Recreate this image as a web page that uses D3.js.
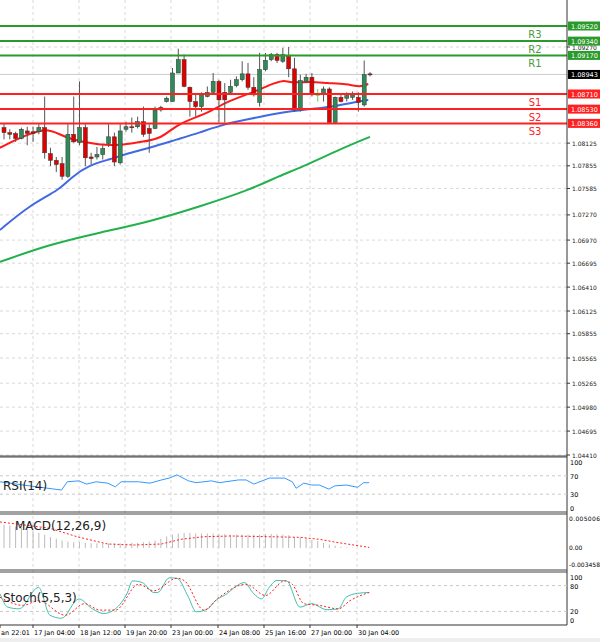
<!DOCTYPE html><html><head><meta charset="utf-8">
<script src="https://cdn.jsdelivr.net/npm/d3@7"></script>
<style>body{margin:0;background:#fff}svg{display:block;font-family:"DejaVu Sans",Arial,sans-serif}</style></head><body>
<svg id="c" width="600" height="642"></svg>
<script>
// candles: [open, high, low, close]
const candles=[[1.0831,1.0835,1.0817,1.0825],[1.0825,1.0829,1.0817,1.0823],[1.0824,1.0826,1.0814,1.0818],[1.0818,1.0831,1.0817,1.0829],
[1.0827,1.0832,1.0810,1.0824],[1.0826,1.0832,1.0814,1.0824],[1.0826,1.0835,1.0823,1.0831],[1.0831,1.0868,1.0794,1.0801],
[1.0800,1.0807,1.0785,1.0792],[1.0792,1.0796,1.0778,1.0787],[1.0788,1.0796,1.0769,1.0773],[1.0773,1.0835,1.0771,1.0823],
[1.0823,1.0868,1.0813,1.0814],[1.0813,1.0886,1.0810,1.0831],[1.0831,1.0835,1.0785,1.0795],[1.0796,1.0801,1.0787,1.0794],
[1.0796,1.0808,1.0793,1.0799],[1.0799,1.0810,1.0793,1.0806],[1.0812,1.0835,1.0808,1.0820],[1.0820,1.0825,1.0785,1.0790],
[1.0789,1.0835,1.0787,1.0827],[1.0829,1.0838,1.0826,1.0832],[1.0832,1.0843,1.0825,1.0831],[1.0832,1.0844,1.0830,1.0838],
[1.0838,1.0856,1.0820,1.0823],[1.0830,1.0835,1.0801,1.0824],[1.0830,1.0856,1.0829,1.0852],[1.0855,1.0857,1.0850,1.0852],
[1.0862,1.0868,1.0861,1.0866],[1.0862,1.0902,1.0862,1.0896],[1.0896,1.0925,1.0896,1.0912],[1.0912,1.0918,1.0879,1.0880],
[1.0879,1.0880,1.0844,1.0862],[1.0862,1.0870,1.0844,1.0856],[1.0856,1.0873,1.0850,1.0870],[1.0868,1.0880,1.0867,1.0873],
[1.0873,1.0896,1.0870,1.0886],[1.0886,1.0888,1.0837,1.0864],[1.0873,1.0884,1.0837,1.0864],[1.0873,1.0888,1.0870,1.0880],
[1.0881,1.0892,1.0879,1.0888],[1.0888,1.0910,1.0886,1.0895],[1.0895,1.0908,1.0876,1.0879],[1.0879,1.0891,1.0868,1.0870],
[1.0861,1.0920,1.0856,1.0900],[1.0900,1.0920,1.0898,1.0911],[1.0912,1.0920,1.0910,1.0918],[1.0918,1.0920,1.0908,1.0911],
[1.0910,1.0926,1.0908,1.0918],[1.0916,1.0927,1.0891,1.0901],[1.0901,1.0914,1.0850,1.0852],[1.0852,1.0894,1.0850,1.0887],
[1.0886,1.0895,1.0884,1.0891],[1.0891,1.0896,1.0868,1.0870],[1.0870,1.0877,1.0862,1.0870],[1.0871,1.0880,1.0862,1.0877],
[1.0877,1.0879,1.0837,1.0837],[1.0837,1.0868,1.0837,1.0867],[1.0867,1.0870,1.0861,1.0862],[1.0866,1.0873,1.0862,1.0869],
[1.0867,1.0874,1.0864,1.0870],[1.0867,1.0873,1.0850,1.0861],[1.0858,1.0911,1.0856,1.0894],[1.0895,1.0897,1.0892,1.0894]];
const maFastIdx=[-0.7,2.75,7.05,9.6,11.4,16.5,20,23.4,26.9,29.8,33.7,35.5,38.4,42.9,45.8,48,49.7,52.7,55.6,59,61.3,62.7];
const maFast=[1.0807,1.0819,1.0831,1.0823,1.0817,1.0810,1.0810,1.0814,1.0817,1.0835,1.0845,1.0850,1.0862,1.0873,1.0882,1.0888,1.0884,1.0886,1.0884,1.0883,1.0879,1.0883];
const maMidIdx=[-0.7,4.5,9.6,11.4,14.8,18.2,21.7,25.1,29.8,33.7,37.7,44.1,49.7,53.9,56.6,60.1,62.7];
const maMid=[1.0709,1.0739,1.0757,1.0771,1.0787,1.0793,1.0801,1.0807,1.0817,1.0825,1.0835,1.0844,1.0851,1.0854,1.0856,1.0861,1.0864];
const maSlowIdx=[-0.7,7.9,16.5,25.1,33.7,42.4,47.5,51,57.8,63];
const maSlow=[1.0671,1.0692,1.0706,1.0719,1.0737,1.0757,1.0774,1.0783,1.0805,1.0820];
const resist=[["R3",1.0952,"1.09520"],["R2",1.0934,"1.09340"],["R1",1.0917,"1.09170"]];
const support=[["S1",1.0871,"1.08710"],["S2",1.0853,"1.08530"],["S3",1.0836,"1.08360"]];
const priceTicks=["1.09270","1.08125","1.07855","1.07585","1.07270","1.06970","1.06695","1.06410","1.06125","1.05855","1.05565","1.05265","1.04980","1.04695","1.04410"];
const lastPrice=1.08943;
const rsiX=[0,60,160,175,205,225,250,280,300,315,360,390,420,440,460,490,510,550,570,620,640,660,700,740,760,770,790,810,830,855,870,900,930,945,960];
const rsi=[57,50,39,57,59,52,57,54,46,57,57,54,61,65,72,59,55,59,55,61,61,52,65,65,57,43,54,50,50,41,48,50,45,55,55];
const macdHist=[4.0,3.9,3.7,3.5,3.2,2.9,2.6,2.3,1.9,1.6,1.3,1.1,1.0,1.0,0.9,0.8,0.8,0.8,0.8,0.8,0.8,0.8,0.9,0.9,1.0,1.1,1.3,1.6,2.0,2.3,2.5,2.6,2.6,2.5,2.5,2.5,2.5,2.4,2.4,2.3,2.3,2.3,2.3,2.3,2.3,2.4,2.4,2.4,2.3,2.2,1.9,1.8,1.7,1.4,1.2,0.9,0.6,0.4,0.2,0.1,0.05,0,0,0];
const macdSigX=[0,130,200,280,350,420,470,530,600,700,780,830,880,960];
const macdSig=[4.5,3.4,1.95,0.69,0.52,0.69,1.5,1.95,2.07,1.95,1.84,1.5,0.92,0.1];
const stochKX=[0,20,50,100,130,160,205,240,270,300,330,345,370,400,410,440,460,490,510,540,560,590,610,635,660,680,700,720,745,780,810,850,880,900,930,960];
const stochK=[61,30,26,76,11,4,49,26,15,26,61,91,87,64,64,98,97,53,19,26,45,61,76,87,61,49,76,92,91,30,38,24,26,53,62,64];
const stochDX=[0,60,100,170,220,260,300,360,400,460,480,530,570,640,690,740,760,790,830,880,910,960];
const stochD=[53,34,45,11,38,23,23,83,68,97,91,23,53,83,57,91,83,38,34,26,45,64];
const timeLabels=[["an 22:01",0],["17 Jan 04:00",33],["18 Jan 12:00",79],["19 Jan 20:00",125],["23 Jan 00:00",171],["24 Jan 08:00",218],["25 Jan 16:00",264],["27 Jan 00:00",310],["30 Jan 04:00",357]];

const svg=d3.select("#c");
const AX=567;
const x=d3.scaleLinear().domain([0,63]).range([4,370]);
const zx=d3.scaleLinear().domain([0,2.6]).range([0,1]);
const y=d3.scaleLinear().domain([1.04410,1.09270]).range([455,47]);
const GRID="#c8c8c8";
timeLabels.slice(1).forEach(t=>{svg.append("line").attr("x1",t[1]).attr("x2",t[1]).attr("y1",0).attr("y2",625).attr("stroke",GRID).attr("stroke-dasharray","3,3").attr("stroke-width",0.7);});
priceTicks.forEach(t=>{svg.append("line").attr("x1",0).attr("x2",AX).attr("y1",y(+t)).attr("y2",y(+t)).attr("stroke",GRID).attr("stroke-dasharray","3,3").attr("stroke-width",0.7);});
svg.append("line").attr("x1",0).attr("x2",AX).attr("y1",y(lastPrice)).attr("y2",y(lastPrice)).attr("stroke","#ccc");
const line=d3.line().curve(d3.curveBasis).x(d=>x(d[0])).y(d=>y(d[1]));
[[maSlowIdx,maSlow,"#22b14c"],[maMidIdx,maMid,"#4169e1"],[maFastIdx,maFast,"#ff1a1a"]].forEach(([ix,v,c])=>{
 svg.append("path").attr("d",line(ix.map((d,i)=>[d,v[i]]))).attr("fill","none").attr("stroke",c).attr("stroke-width",2);});
candles.forEach((c,i)=>{const [o,h,l,cl]=c;const up=cl>o;const doji=cl===o;
 const col=doji?"#55dd55":(up?"#2e8b57":"#e00000");
 svg.append("line").attr("x1",x(i)).attr("x2",x(i)).attr("y1",y(h)).attr("y2",y(l)).attr("stroke",doji?col:"#555").attr("stroke-width",1);
 const t=y(Math.max(o,cl)),b=y(Math.min(o,cl));
 svg.append("rect").attr("x",x(i)-2).attr("y",t).attr("width",4).attr("height",Math.max(1,b-t)).attr("fill",col).attr("stroke",doji?"none":"#333").attr("stroke-width",0.5);});
function level(arr,col,tc){arr.forEach(([n,v,lab])=>{
 svg.append("line").attr("x1",0).attr("x2",AX).attr("y1",y(v)).attr("y2",y(v)).attr("stroke",col).attr("stroke-width",2);
 svg.append("text").attr("x",535).attr("y",y(v)+12).attr("font-size",10).attr("fill",tc).attr("text-anchor","middle").text(n);});}
level(resist,"#2a9a2a","#4a9a3a");level(support,"#ff2020","#ff2020");
svg.append("rect").attr("x",AX).attr("y",0).attr("width",33).attr("height",642).attr("fill","#fff");
svg.append("line").attr("x1",AX).attr("x2",AX).attr("y1",0).attr("y2",625).attr("stroke","#333");
priceTicks.forEach(t=>{svg.append("line").attr("x1",AX).attr("x2",AX+3).attr("y1",y(+t)).attr("y2",y(+t)).attr("stroke","#333");
 svg.append("text").attr("x",AX+5).attr("y",y(+t)+2.5).attr("font-size",6).attr("fill","#222").text(t);});
function box(v,lab,fill){svg.append("rect").attr("x",AX+1).attr("y",y(v)-4.5).attr("width",32).attr("height",9).attr("fill",fill);
 svg.append("text").attr("x",AX+4).attr("y",y(v)+2.5).attr("font-size",6.5).attr("fill","#fff").text(lab);}
resist.forEach(r=>box(r[1],r[2],"#2a9a2a"));support.forEach(r=>box(r[1],r[2],"#ff2020"));box(lastPrice,"1.08943","#000");
[456,457,512,514,570,572].forEach(p=>svg.append("line").attr("x1",0).attr("x2",AX).attr("y1",p).attr("y2",p).attr("stroke","#444").attr("stroke-width",1));
// RSI
const yr=d3.scaleLinear().domain([0,100]).range([508,462]);
[70,30].forEach(v=>svg.append("line").attr("x1",0).attr("x2",AX).attr("y1",yr(v)).attr("y2",yr(v)).attr("stroke",GRID).attr("stroke-dasharray","3,3"));
svg.append("path").attr("d",d3.line().x((d,i)=>zx(rsiX[i])).y(d=>yr(d))(rsi)).attr("fill","none").attr("stroke","#3399ff").attr("stroke-width",1);
[[100,"100"],[70,"70"],[30,"30"],[0,"0"]].forEach(([v,t])=>svg.append("text").attr("x",AX+3).attr("y",yr(v)+3).attr("font-size",6.5).text(t));
svg.append("text").attr("x",3).attr("y",490).attr("font-size",12).attr("fill","#222").text("RSI(14)");
// MACD
const ym=d3.scaleLinear().domain([0,5.006]).range([548,519]);
macdHist.forEach((v,i)=>svg.append("line").attr("x1",x(i)).attr("x2",x(i)).attr("y1",ym(0)).attr("y2",ym(v)).attr("stroke","#bbb").attr("stroke-width",1));
svg.append("path").attr("d",d3.line().x((d,i)=>zx(macdSigX[i])).y(d=>ym(d))(macdSig)).attr("fill","none").attr("stroke","#ff2020").attr("stroke-dasharray","2,2").attr("stroke-width",1);
[[5.006,"0.005006",521],[0,"0.00",550],[-3.458,"-0.003458",567]].forEach(([v,t,py])=>svg.append("text").attr("x",AX+2).attr("y",py).attr("font-size",6).attr("textLength",t.length>5?31:null).text(t));
svg.append("text").attr("x",15).attr("y",530).attr("font-size",12).attr("fill","#222").text("MACD(12,26,9)");
// Stoch
const ys=d3.scaleLinear().domain([0,100]).range([620,577]);
[80,20].forEach(v=>svg.append("line").attr("x1",0).attr("x2",AX).attr("y1",ys(v)).attr("y2",ys(v)).attr("stroke",GRID).attr("stroke-dasharray","3,3"));
svg.append("path").attr("d",d3.line().curve(d3.curveMonotoneX).x((d,i)=>zx(stochKX[i])).y(d=>ys(d))(stochK)).attr("fill","none").attr("stroke","#40c0b0").attr("stroke-width",1);
svg.append("path").attr("d",d3.line().curve(d3.curveMonotoneX).x((d,i)=>zx(stochDX[i])).y(d=>ys(d))(stochD)).attr("fill","none").attr("stroke","#ff2020").attr("stroke-dasharray","2,2").attr("stroke-width",1);
[[100,"100"],[80,"80"],[20,"20"],[0,"0"]].forEach(([v,t])=>svg.append("text").attr("x",AX+3).attr("y",ys(v)+3).attr("font-size",6.5).text(t));
svg.append("text").attr("x",3).attr("y",602).attr("font-size",12).attr("fill","#222").text("Stoch(5,5,3)");
svg.append("line").attr("x1",0).attr("x2",AX).attr("y1",625).attr("y2",625).attr("stroke","#333");
timeLabels.forEach(([t,px])=>{svg.append("line").attr("x1",px).attr("x2",px).attr("y1",625).attr("y2",628).attr("stroke","#333");
 svg.append("text").attr("x",px+1).attr("y",635).attr("font-size",6.5).text(t);});
svg.append("rect").attr("x",0).attr("y",638).attr("width",600).attr("height",4).attr("fill","#eee");
</script></body></html>
